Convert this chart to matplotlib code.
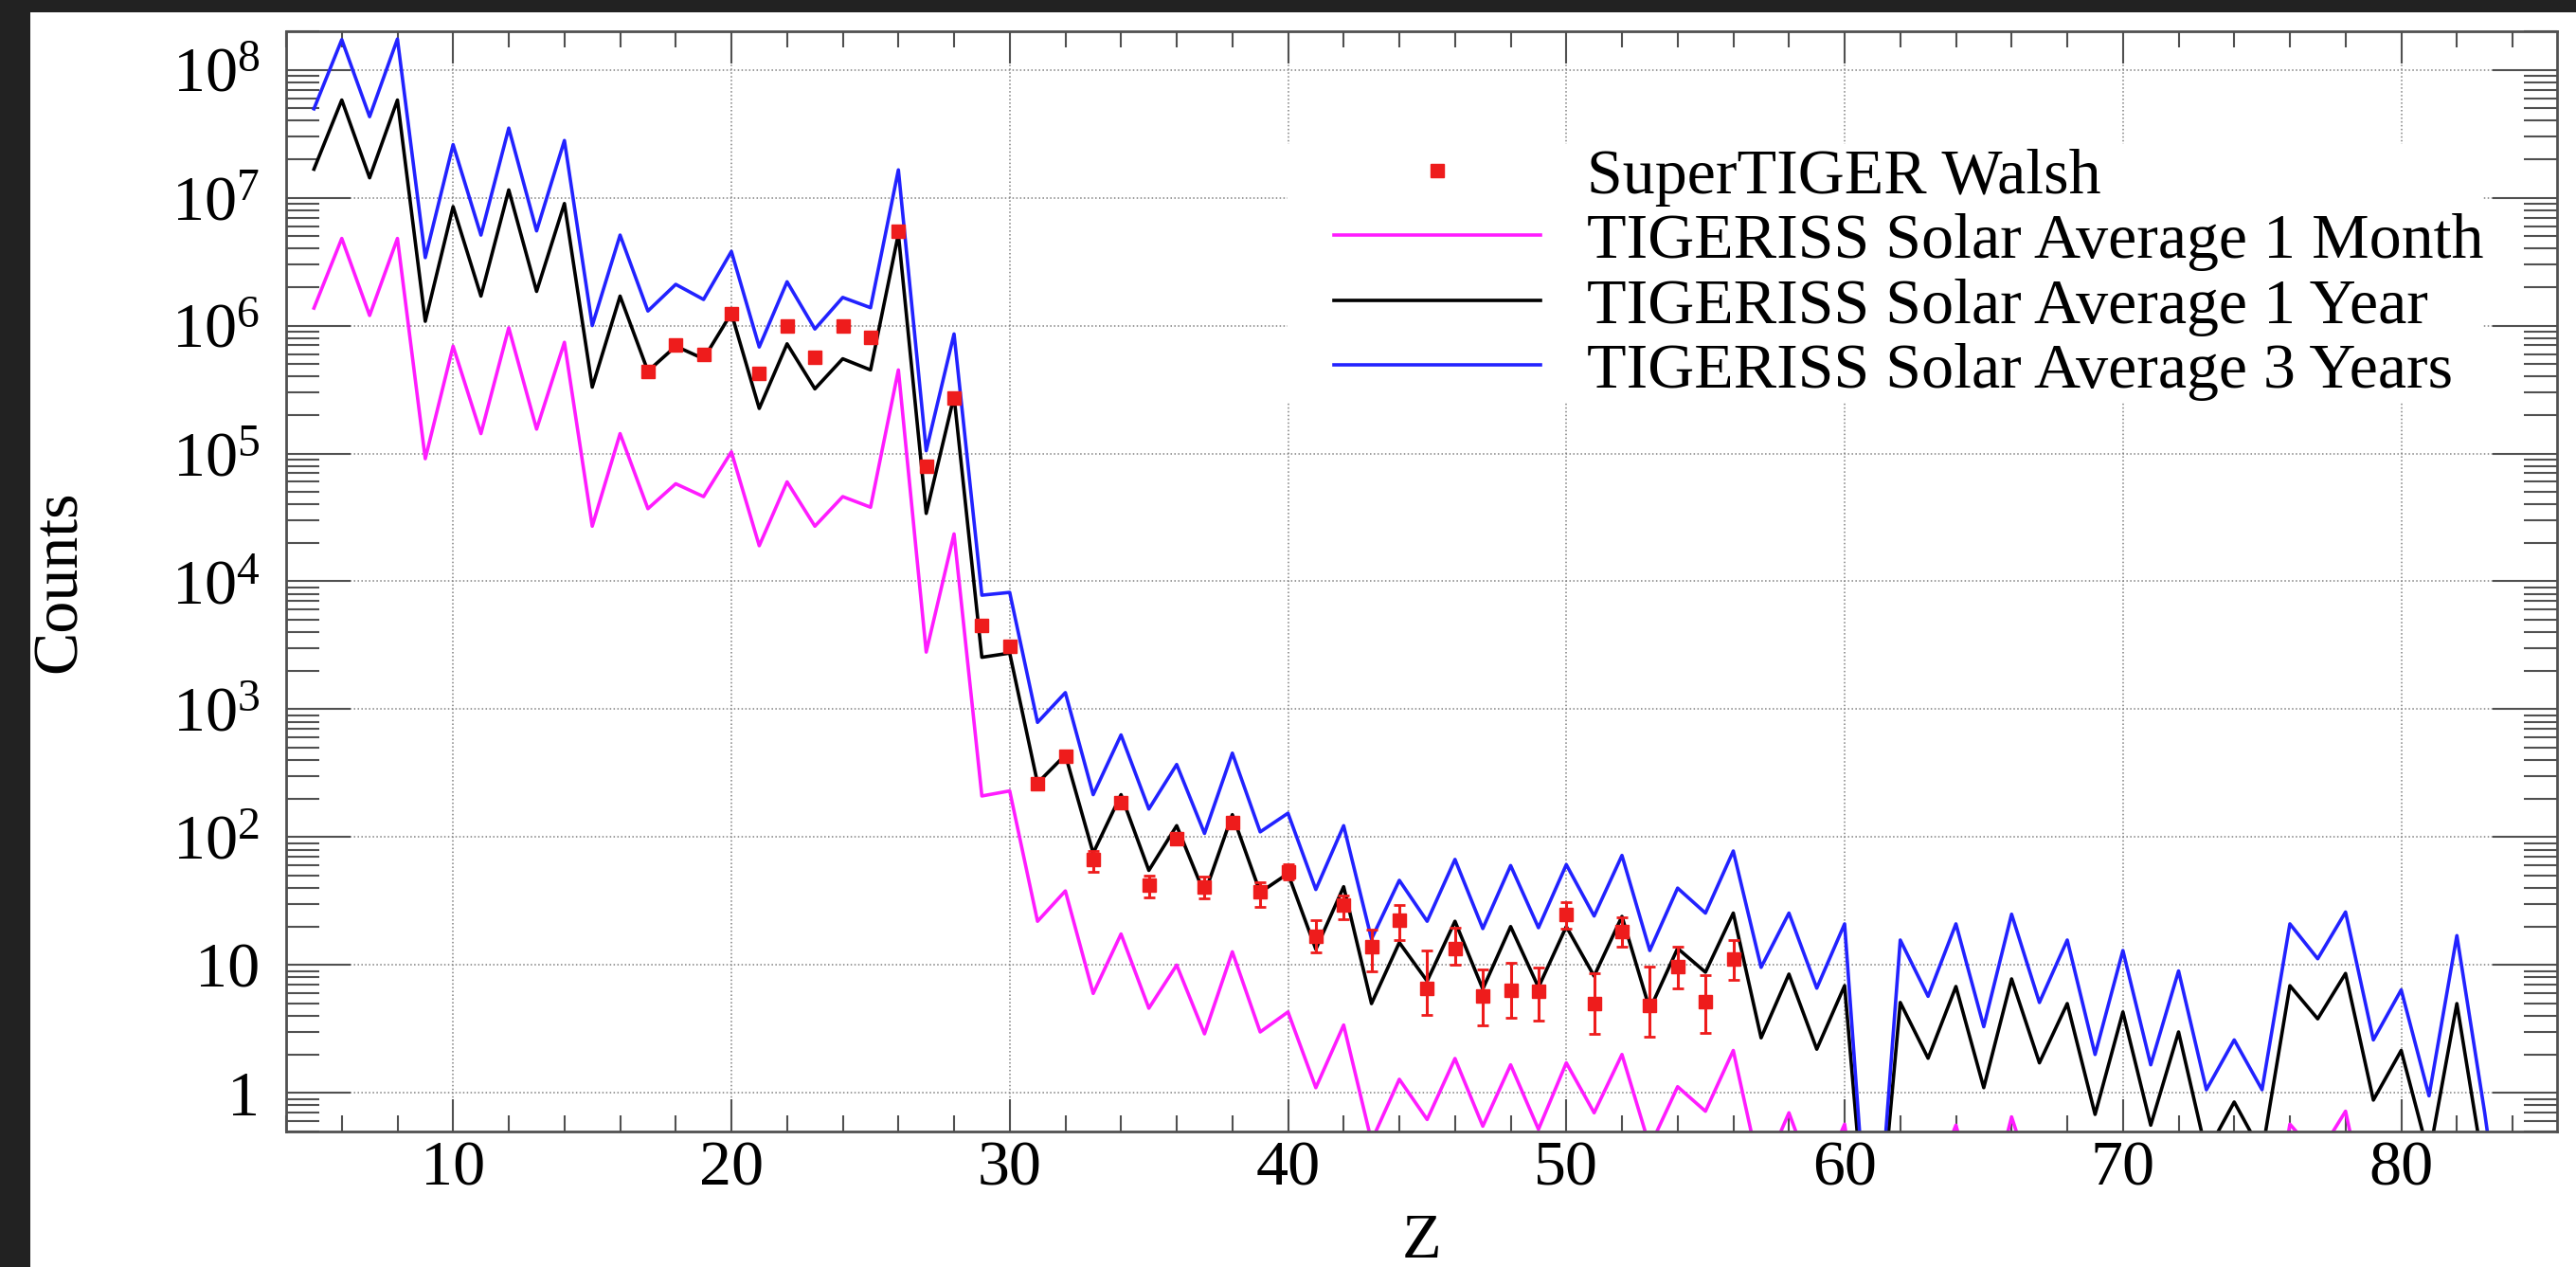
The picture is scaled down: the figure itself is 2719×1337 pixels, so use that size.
import numpy as np
import matplotlib
matplotlib.use("Agg")
import matplotlib.pyplot as plt
from matplotlib.patches import Rectangle
from matplotlib.ticker import (LogLocator, MultipleLocator, FixedLocator,
                               FuncFormatter, NullFormatter)

# Charge number Z of each bin
z = list(range(5, 85))

# Expected counts, TIGERISS solar average exposure
one_month = [
    1.37e6, 4.8e6, 1.2e6, 4.8e6, 9.1e4, 6.9e5, 1.43e5, 9.6e5, 1.55e5, 7.4e5,    # 5-14
    2.7e4, 1.43e5, 3.7e4, 5.8e4, 4.6e4, 1.03e5, 1.9e4, 6.0e4, 2.7e4, 4.6e4,     # 15-24
    3.8e4, 4.5e5, 2.8e3, 2.35e4, 210, 230, 22, 38, 6.0, 17.5,                   # 25-34
    4.6, 10, 2.9, 12.7, 3.0, 4.3, 1.1, 3.4, 0.42, 1.28,                         # 35-44
    0.62, 1.86, 0.55, 1.66, 0.52, 1.72, 0.70, 2.0, 0.38, 1.12,                  # 45-54
    0.72, 2.15, 0.22, 0.70, 0.18, 0.57, 0.02, 0.43, 0.155, 0.56,                # 55-64
    0.09, 0.65, 0.14, 0.41, 0.06, 0.36, 0.05, 0.25, 0.03, 0.07,                 # 65-74
    0.03, 0.57, 0.32, 0.72, 0.07, 0.18, 0.03, 0.42, 0.02, 0.02,                 # 75-84
]
one_year = [
    1.67e7, 5.8e7, 1.43e7, 5.8e7, 1.08e6, 8.5e6, 1.7e6, 1.15e7, 1.85e6, 9.0e6,  # 5-14
    3.3e5, 1.7e6, 4.4e5, 6.9e5, 5.5e5, 1.25e6, 2.25e5, 7.2e5, 3.2e5, 5.5e5,     # 15-24
    4.5e5, 5.2e6, 3.4e4, 2.8e5, 2550, 2750, 265, 440, 75, 215,                  # 25-34
    55, 123, 36, 150, 37, 52, 13.3, 41, 5.0, 15,                                # 35-44
    7.5, 22, 6.5, 20, 6.7, 20, 8.2, 24, 4.5, 13.5,                              # 45-54
    8.8, 25.5, 2.7, 8.5, 2.2, 6.9, 0.02, 5.1, 1.87, 6.8,                        # 55-64
    1.1, 7.8, 1.72, 5.0, 0.68, 4.3, 0.56, 3.0, 0.34, 0.85,                      # 65-74
    0.34, 6.9, 3.8, 8.6, 0.88, 2.15, 0.32, 5.0, 0.23, 0.02,                     # 75-84
]
three_years = [
    4.95e7, 1.72e8, 4.3e7, 1.74e8, 3.4e6, 2.6e7, 5.1e6, 3.5e7, 5.5e6, 2.8e7,    # 5-14
    1.0e6, 5.1e6, 1.3e6, 2.1e6, 1.6e6, 3.8e6, 6.8e5, 2.2e6, 9.4e5, 1.66e6,      # 15-24
    1.38e6, 1.65e7, 1.05e5, 8.6e5, 7.8e3, 8.2e3, 790, 1350, 215, 630,           # 25-34
    166, 370, 107, 454, 110, 154, 39, 123, 16, 46,                              # 35-44
    22, 67, 19.3, 60, 19.6, 61, 24.2, 72, 13, 40,                               # 45-54
    25.5, 78, 9.6, 25.5, 6.6, 21, 0.02, 15.7, 5.7, 21,                          # 55-64
    3.3, 25, 5.1, 15.7, 2.0, 13, 1.66, 9.0, 1.06, 2.6,                          # 65-74
    1.06, 21, 11.2, 26, 2.6, 6.4, 0.95, 17, 0.7, 0.02,                          # 75-84
]

# SuperTIGER measured counts with asymmetric uncertainties
st_z = list(range(17, 57))
st_counts = [
    4.4e5, 7.1e5, 5.9e5, 1.24e6, 4.2e5, 9.9e5, 5.7e5, 9.9e5, 8.1e5, 5.5e6,      # 17-26
    7.9e4, 2.7e5, 4.55e3, 3.1e3, 263, 428, 66.5, 185, 42.5, 98,                 # 27-36
    41, 130, 37.6, 54, 16.9, 29.7, 14, 22.3, 6.6, 13.5,                         # 37-46
    5.7, 6.4, 6.2, 24.9, 5.0, 18.2, 4.8, 9.8, 5.2, 11.2,                        # 47-56
]
st_err_lo = [
    0, 0, 0, 0, 0, 0, 0, 0, 0, 0,
    0, 0, 0, 0, 0, 0, 12.5, 15, 8.5, 10,
    8, 12, 9, 7.5, 4.4, 6.9, 5.0, 6.6, 2.5, 3.5,
    2.3, 2.5, 2.55, 5.5, 2.1, 4.2, 2.05, 3.2, 2.24, 3.5,
]
st_err_hi = [
    0, 0, 0, 0, 0, 0, 0, 0, 0, 0,
    0, 0, 0, 0, 0, 0, 11.5, 15, 7.5, 10,
    8, 12, 7, 7.7, 5.4, 5.5, 4.9, 7.3, 6.4, 6.1,
    3.6, 4.0, 3.4, 6.1, 3.6, 5.5, 5.0, 4.2, 3.1, 4.5,
]

x_ticks = [10, 20, 30, 40, 50, 60, 70, 80]
series_labels = [
    "SuperTIGER Walsh",
    "TIGERISS Solar Average 1 Month",
    "TIGERISS Solar Average 1 Year",
    "TIGERISS Solar Average 3 Years",
]

plt.rcParams["font.family"] = ["Liberation Serif", "DejaVu Serif"]
plt.rcParams["mathtext.fontset"] = "custom"
plt.rcParams["mathtext.rm"] = "Liberation Serif"
plt.rcParams["mathtext.it"] = "Liberation Serif:italic"
plt.rcParams["mathtext.bf"] = "Liberation Serif:bold"

RED = "#ee1c1c"
MAGENTA = "#ff1cff"
BLUE = "#2222ff"
FRAME = "#505050"
FS = 49
LW = 2.6

W, H = 2719, 1337
fig = plt.figure(figsize=(W / 100, H / 100), dpi=100, facecolor="#222222")
fig.add_artist(Rectangle((32 / W, 0), 1 - 32 / W, (H - 13) / H,
                         transform=fig.transFigure, facecolor="white",
                         edgecolor="none", zorder=-1))

ax = fig.add_axes([302 / W, (H - 1194) / H, (2699 - 302) / W, (1194 - 33) / H])
ax.set_yscale("log")
ax.set_xlim(4, 85.6)
ax.set_ylim(0.5, 2e8)
ax.set_axisbelow(True)

# model curves
l_month, = ax.plot(z, one_month, color=MAGENTA, lw=LW, zorder=2)
l_year, = ax.plot(z, one_year, color="black", lw=LW, zorder=2)
l_three, = ax.plot(z, three_years, color=BLUE, lw=LW, zorder=2)

# measured points
ax.errorbar(st_z, st_counts, yerr=[st_err_lo, st_err_hi], fmt="none",
            ecolor=RED, elinewidth=2.2, capsize=4, capthick=2.0, zorder=3)
pts, = ax.plot(st_z, st_counts, "s", color=RED, ms=10.5, mec=RED, mew=1,
               ls="none", zorder=4)

# axes styling
for sp in ax.spines.values():
    sp.set_color(FRAME)
    sp.set_linewidth(2.0)

ax.xaxis.set_major_locator(FixedLocator(x_ticks))
ax.xaxis.set_minor_locator(MultipleLocator(2))
ax.xaxis.set_minor_formatter(NullFormatter())
ax.yaxis.set_major_locator(LogLocator(base=10, numticks=20))
ax.yaxis.set_minor_locator(LogLocator(base=10, subs=np.arange(2, 10), numticks=200))
ax.yaxis.set_minor_formatter(NullFormatter())


def decade_label(v, pos):
    e = int(round(np.log10(v)))
    if e == 0:
        return "1"
    if e == 1:
        return "10"
    return r"$10^{%d}$" % e


ax.yaxis.set_major_formatter(FuncFormatter(decade_label))

ax.tick_params(which="both", direction="in", top=True, right=True,
               color=FRAME, width=1.5, labelsize=FS, labelcolor="black")
ax.tick_params(axis="x", which="major", length=24.5, pad=7)
ax.tick_params(axis="x", which="minor", length=12.2)
ax.tick_params(axis="y", which="major", length=49, pad=20)
ax.tick_params(axis="y", which="minor", length=25)

ax.grid(True, which="major", color="#808080", linestyle=(0, (1, 1.6)), linewidth=1.1)

ax.set_xlabel("Z", fontsize=FS)
ax.xaxis.set_label_coords(0.5, -0.074)
ax.set_ylabel("Counts", fontsize=FS, va="center")
ax.yaxis.set_label_coords(-0.0995, 0.5)

# legend background box hiding the grid
ax.add_patch(Rectangle((0.441, 0.6632), 0.967 - 0.441, 0.8975 - 0.6632,
                       transform=ax.transAxes, facecolor="white",
                       edgecolor="none", zorder=1))

ax.legend([pts, l_month, l_year, l_three], series_labels,
          loc="upper left", bbox_to_anchor=(0.4614, 0.894), frameon=False,
          fontsize=FS, handlelength=3.2, handletextpad=0.72, borderpad=0,
          borderaxespad=0, labelspacing=0.1, numpoints=1)

fig.savefig("out.png", dpi=100, facecolor=fig.get_facecolor())
